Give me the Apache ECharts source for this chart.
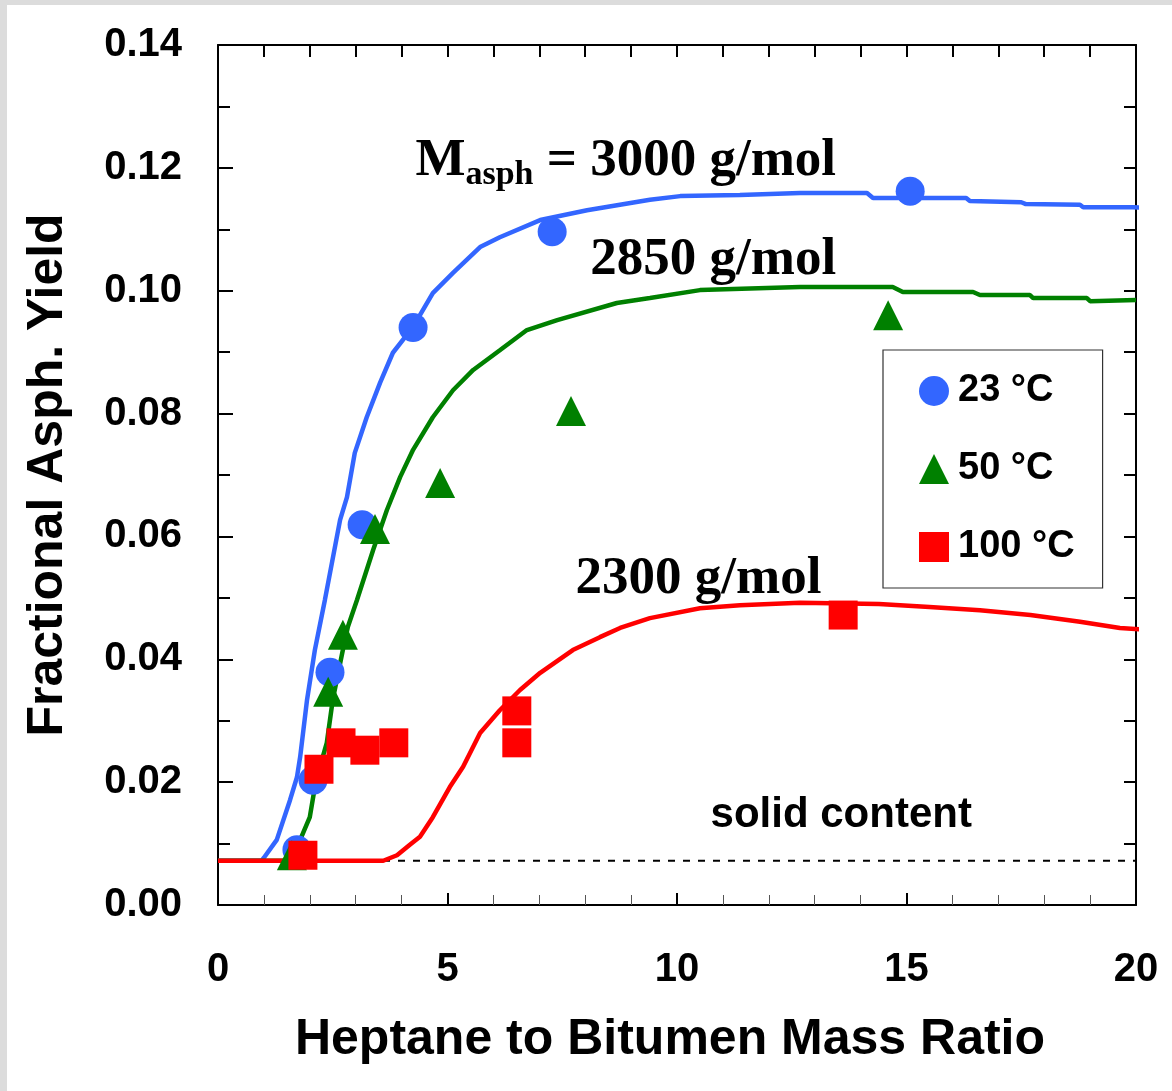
<!DOCTYPE html>
<html>
<head>
<meta charset="utf-8">
<script src="https://cdn.jsdelivr.net/npm/echarts@6/dist/echarts.min.js"></script>
<style>
  html, body { margin: 0; padding: 0; background: #ffffff; }
  #chart { position: absolute; left: 0; top: 0; width: 1172px; height: 1091px; }
  .strip { position: absolute; background: #dcdcdc; z-index: 5; }
</style>
</head>
<body>
<div id="chart"></div>
<div class="strip" style="left:0;top:0;width:1172px;height:5px;"></div>
<div class="strip" style="left:0;top:0;width:7px;height:1091px;"></div>
<script>
// ---------- data ----------
const seriesNames = ['23 °C', '50 °C', '100 °C'];

// measured points
const x23 = [1.72, 2.07, 2.44, 3.14, 4.25, 7.28, 15.08];
const y23 = [0.0090, 0.0203, 0.0379, 0.0619, 0.0940, 0.1096, 0.1162];

const x50 = [1.61, 2.40, 2.72, 3.42, 4.84, 7.69, 14.60];
const y50 = [0.0081, 0.0347, 0.0440, 0.0612, 0.0687, 0.0804, 0.0960];

const x100 = [1.85, 2.20, 2.68, 3.20, 3.83, 6.51, 6.51, 13.62];
const y100 = [0.0081, 0.0221, 0.0264, 0.0252, 0.0264, 0.0316, 0.0264, 0.0472];

// model curves
const curveX3000 = [0, 0.95, 1.0, 1.28, 1.57, 1.72, 1.79, 1.94, 2.11, 2.33, 2.66, 2.81, 2.98, 3.24, 3.53, 3.81, 4.25, 4.68, 5.12, 5.71, 6.14, 7.02, 8.04, 9.41, 10.07, 11.37, 12.68, 14.14, 14.27, 16.3, 16.38, 17.5, 17.6, 18.78, 18.85, 19.93, 20.3];
const curveY3000 = [0.0072, 0.0072, 0.0077, 0.0106, 0.0171, 0.0208, 0.0241, 0.0334, 0.0415, 0.0497, 0.0627, 0.0664, 0.0736, 0.0794, 0.0850, 0.0899, 0.0941, 0.0996, 0.1029, 0.1071, 0.1087, 0.1115, 0.1131, 0.1148, 0.1154, 0.1156, 0.1159, 0.1159, 0.1151, 0.1151, 0.1146, 0.1144, 0.1141, 0.1140, 0.1136, 0.1136, 0.1135];

const curveX2850 = [0, 1.42, 1.55, 1.79, 2.0, 2.11, 2.22, 2.37, 2.5, 2.72, 2.83, 3.03, 3.38, 3.68, 3.97, 4.25, 4.68, 5.12, 5.56, 6.14, 6.73, 7.39, 8.69, 9.41, 10.5, 12.68, 14.7, 14.92, 16.45, 16.6, 17.69, 17.76, 18.93, 19.0, 20.0];
const curveY2850 = [0.0072, 0.0072, 0.0077, 0.0106, 0.0143, 0.0192, 0.0225, 0.0264, 0.0334, 0.0415, 0.0453, 0.0497, 0.0578, 0.0643, 0.0697, 0.0741, 0.0794, 0.0838, 0.0871, 0.0903, 0.0936, 0.0952, 0.0980, 0.0988, 0.1001, 0.1006, 0.1006, 0.0998, 0.0998, 0.0993, 0.0993, 0.0988, 0.0988, 0.0983, 0.0985];

const curveX2300 = [0, 3.6, 3.9, 4.18, 4.4, 4.68, 5.05, 5.34, 5.71, 6.14, 6.58, 7.02, 7.73, 8.32, 8.76, 9.41, 10.5, 11.37, 12.68, 14.4, 15.5, 16.6, 17.7, 18.78, 19.65, 20.3];
const curveY2300 = [0.0072, 0.0072, 0.0081, 0.0098, 0.0111, 0.0143, 0.0192, 0.0225, 0.0280, 0.0317, 0.0350, 0.0378, 0.0415, 0.0436, 0.0451, 0.0467, 0.0483, 0.0488, 0.0492, 0.0490, 0.0485, 0.0480, 0.0472, 0.0461, 0.0451, 0.0448];

// solid content level
const solidX = [0, 20];
const solidY = [0.0072, 0.0072];

// axis ticks
const xTicks = [0, 5, 10, 15, 20];
const yTicks = [0, 0.02, 0.04, 0.06, 0.08, 0.10, 0.12, 0.14];

// ---------- helpers ----------
const zip = (xs, ys) => xs.map((x, i) => [x, ys[i]]);
const SANS = "'Liberation Sans', Arial, Helvetica, sans-serif";
const SERIF = "'Liberation Serif', 'Times New Roman', Times, serif";
const BLUE = '#3366ff', GREEN = '#008000', RED = '#ff0000';

const chart = echarts.init(document.getElementById('chart'), null, { renderer: 'canvas' });

const axisLineStyle = { color: '#000', width: 2 };

const option = {
  animation: false,
  backgroundColor: 'transparent',
  grid: { left: 218, right: 36, top: 45, bottom: 186, containLabel: false },
  xAxis: [
    {
      type: 'value', position: 'bottom',
      min: xTicks[0], max: xTicks[xTicks.length - 1], interval: xTicks[1] - xTicks[0],
      axisLine: { show: true, onZero: false, lineStyle: axisLineStyle },
      axisTick: { show: true, inside: true, length: 12, lineStyle: { color: '#000', width: 2 } },
      minorTick: { show: true, splitNumber: 5, length: 10, lineStyle: { color: '#555', width: 1 } },
      splitLine: { show: false },
      axisLabel: { show: true, margin: 45, fontSize: 40, fontWeight: 'bold', color: '#000', fontFamily: SANS, lineHeight: 40 },
      name: 'Heptane to Bitumen Mass Ratio',
      nameLocation: 'middle', nameGap: 110,
      nameTextStyle: { fontSize: 50, fontWeight: 'bold', color: '#000', fontFamily: SANS, lineHeight: 50, padding: [0, 14, 0, 0] }
    },
    {
      type: 'value', position: 'top',
      min: xTicks[0], max: xTicks[xTicks.length - 1], interval: 1,
      axisLine: { show: true, onZero: false, lineStyle: axisLineStyle },
      axisTick: { show: true, inside: true, length: 12, lineStyle: { color: '#000', width: 2 } },
      axisLabel: { show: false },
      splitLine: { show: false }
    }
  ],
  yAxis: [
    {
      type: 'value', position: 'left',
      min: yTicks[0], max: yTicks[yTicks.length - 1], interval: yTicks[1] - yTicks[0],
      axisLine: { show: true, onZero: false, lineStyle: axisLineStyle },
      axisTick: { show: true, inside: true, length: 15, lineStyle: { color: '#000', width: 2 } },
      minorTick: { show: true, splitNumber: 2, length: 12, lineStyle: { color: '#000', width: 2 } },
      splitLine: { show: false },
      axisLabel: {
        show: true, margin: 36, fontSize: 40, fontWeight: 'bold', color: '#000', fontFamily: SANS,
        formatter: v => v.toFixed(2)
      },
      name: 'Fractional Asph. Yield',
      nameLocation: 'middle', nameGap: 145,
      nameTextStyle: { fontSize: 50, fontWeight: 'bold', color: '#000', fontFamily: SANS, lineHeight: 50 }
    },
    {
      type: 'value', position: 'right',
      min: yTicks[0], max: yTicks[yTicks.length - 1], interval: 0.01,
      axisLine: { show: true, onZero: false, lineStyle: axisLineStyle },
      axisTick: { show: true, inside: true, length: 12, lineStyle: { color: '#000', width: 2 } },
      axisLabel: { show: false },
      splitLine: { show: false }
    }
  ],
  legend: {
    data: seriesNames.map(n => ({ name: n })),
    orient: 'vertical',
    left: 883, top: 350,
    itemWidth: 30, itemHeight: 30, itemGap: 40,
    padding: [22, 28, 22, 36],
    borderColor: '#333', borderWidth: 1.2,
    backgroundColor: '#fff',
    selectedMode: false,
    textStyle: { fontSize: 38, fontWeight: 'bold', color: '#000', fontFamily: SANS, padding: [0, 0, 0, 4] }
  },
  series: [
    {
      name: 'solid', type: 'line', data: zip(solidX, solidY), symbol: 'none', z: 1,
      lineStyle: { color: '#000', width: 2, type: [7, 8] }, silent: true
    },
    {
      name: 'M3000', type: 'line', data: zip(curveX3000, curveY3000), symbol: 'none', z: 2, clip: false,
      lineStyle: { color: BLUE, width: 4.5 }, silent: true
    },
    {
      name: 'M2850', type: 'line', data: zip(curveX2850, curveY2850), symbol: 'none', z: 2, clip: false,
      lineStyle: { color: GREEN, width: 4.5 }, silent: true
    },
    {
      name: 'M2300', type: 'line', data: zip(curveX2300, curveY2300), symbol: 'none', z: 2, clip: false,
      lineStyle: { color: RED, width: 4.5 }, silent: true
    },
    {
      name: seriesNames[0], type: 'scatter', data: zip(x23, y23), symbol: 'circle', symbolSize: 29, z: 3,
      itemStyle: { color: BLUE, opacity: 1 }
    },
    {
      name: seriesNames[1], type: 'scatter', data: zip(x50, y50), symbol: 'triangle', symbolSize: 30, z: 4,
      itemStyle: { color: GREEN, opacity: 1 }
    },
    {
      name: seriesNames[2], type: 'scatter', data: zip(x100, y100), symbol: 'rect', symbolSize: 29, z: 5,
      itemStyle: { color: RED, opacity: 1 }
    },
    {
      name: 'annotations', type: 'scatter', symbol: 'circle', symbolSize: 1, z: 6, silent: true,
      itemStyle: { color: 'rgba(0,0,0,0)', opacity: 1 },
      label: { show: true, position: 'right', distance: 0, color: '#000' },
      data: [
        {
          value: [4.29, 0.1211],
          label: {
            formatter: '{m|M}{s|asph}{n| = 3000 g/mol}',
            rich: {
              m: { fontFamily: SERIF, fontWeight: 'bold', fontSize: 53, lineHeight: 50, color: '#000' },
              s: { fontFamily: SERIF, fontWeight: 'bold', fontSize: 34, lineHeight: 24, padding: [28, 0, 0, 0], color: '#000' },
              n: { fontFamily: SERIF, fontWeight: 'bold', fontSize: 53, lineHeight: 50, color: '#000' }
            }
          }
        },
        {
          value: [8.10, 0.1050],
          label: { formatter: '2850 g/mol', fontFamily: SERIF, fontWeight: 'bold', fontSize: 53, lineHeight: 50, color: '#000' }
        },
        {
          value: [7.78, 0.0530],
          label: { formatter: '2300 g/mol', fontFamily: SERIF, fontWeight: 'bold', fontSize: 53, lineHeight: 50, color: '#000' }
        },
        {
          value: [10.72, 0.0146],
          label: { formatter: 'solid content', fontFamily: SANS, fontWeight: 'bold', fontSize: 42, lineHeight: 42, color: '#000' }
        }
      ]
    }
  ]
};

chart.setOption(option);
</script>
</body>
</html>
